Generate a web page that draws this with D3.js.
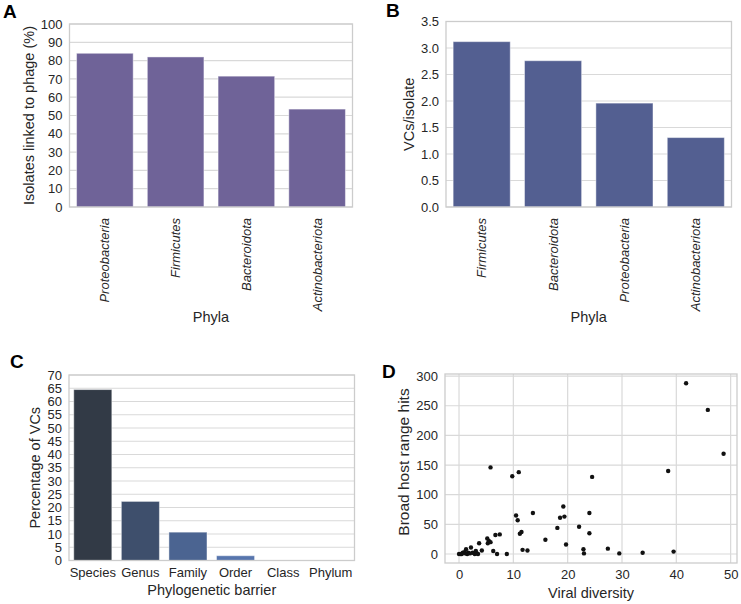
<!DOCTYPE html>
<html><head><meta charset="utf-8">
<script src="https://cdn.jsdelivr.net/npm/d3@7"></script>
<style>body{margin:0;background:#fff}svg{display:block;font-family:"Liberation Sans",Arial,sans-serif}</style>
</head><body>
<svg id="c" width="741" height="604"></svg>
<script>
// Panel A
const phylaA = ["Proteobacteria","Firmicutes","Bacteroidota","Actinobacteriota"];
const linkedPct = [84, 82, 71.5, 53.5];
const ticksA = [0,10,20,30,40,50,60,70,80,90,100];
// Panel B
const phylaB = ["Firmicutes","Bacteroidota","Proteobacteria","Actinobacteriota"];
const vcsPerIsolate = [3.12, 2.76, 1.96, 1.31];
const ticksB = [0,0.5,1,1.5,2,2.5,3,3.5];
// Panel C
const barriers = ["Species","Genus","Family","Order","Class","Phylum"];
const pctVCs = [64.5, 22.3, 10.7, 1.8, 0, 0];
const colorsC = ["#323a46","#3e4f6c","#4b6491","#5775ad","#6386c4","#7096d6"];
const ticksC = [0,5,10,15,20,25,30,35,40,45,50,55,60,65,70];
// Panel D
const viralDiversity = [41.8,45.8,48.7,38.5,5.8,9.8,11.0,24.5,
  19.2,10.5,13.6,24.0,18.6,19.4,10.8,18.1,22.1,24.0,11.2,11.5,7.5,6.7,15.9,19.7,
  11.7,12.6,22.9,23.0,27.4,29.5,33.8,39.5,8.8,7.0,6.3,
  5.2,5.3,5.5,5.8,3.7,4.2,2.2,1.3,1.0,0.7,0.3,0,0.5,1.5,1.7,2.0,2.5,2.9,3.1,3.3,3.5,1.2];
const broadHits = [288,243,169,140,146,131,138,130,
  80,65,69,69,61,63,57,44,46,35,34,37,33,32,24,16,
  7,6,8,1,9,1,2,4,0,0,5,
  26,18,22,20,18,6,11,8,3,2,0,0,0,0,2,1,2,0,5,1,0,1];
const ticksDx = [0,10,20,30,40,50];
const ticksDy = [0,50,100,150,200,250,300];

const svg = d3.select("#c");
const GRID = "#d9d9d9", FRAME = "#cccccc", TXT = "#262626";
const TICK = 13, LAB = 14.5;

function frame(g, x0, x1, y0, y1){
  g.append("rect").attr("x",x0).attr("y",y0).attr("width",x1-x0).attr("height",y1-y0)
   .attr("fill","none").attr("stroke",FRAME).attr("stroke-width",1.3);
}
function yAxis(g, y, ticks, x0, x1, fmt, grid=true){
  const ax = d3.axisLeft(y).tickValues(ticks).tickSize(0).tickPadding(7).tickFormat(fmt);
  const a = g.append("g").attr("transform",`translate(${x0},0)`).call(ax);
  a.select(".domain").remove();
  a.selectAll("text").attr("font-size",TICK).attr("fill",TXT).attr("font-family","Liberation Sans, Arial, sans-serif");
  if(grid){
    g.append("g").selectAll("line").data(ticks).join("line")
     .attr("x1",x0).attr("x2",x1).attr("y1",d=>y(d)).attr("y2",d=>y(d))
     .attr("stroke",GRID).attr("stroke-width",1.2);
  }
}
function yLabel(g, text, cx, cy, size=LAB){
  g.append("text").attr("transform",`translate(${cx},${cy}) rotate(-90)`)
   .attr("text-anchor","middle").attr("dy","0.35em").attr("font-size",size).attr("fill",TXT).text(text);
}
function panelLabel(t, x, y){
  svg.append("text").attr("x",x).attr("y",y).attr("font-size",19).attr("font-weight","bold").attr("fill","#000").text(t);
}

function rotatedBarPanel(cats, vals, ticks, fmt, color, box, ylab, ylabX){
  const g = svg.append("g");
  const [x0,x1,y0,y1] = box;
  const x = d3.scaleBand().domain(cats).range([x0,x1]).paddingInner(0.2).paddingOuter(0.1);
  const y = d3.scaleLinear().domain([0, ticks[ticks.length-1]]).range([y1,y0]);
  yAxis(g, y, ticks, x0, x1, fmt);
  g.selectAll("rect.bar").data(cats).join("rect").attr("class","bar")
   .attr("x",d=>x(d)).attr("width",x.bandwidth())
   .attr("y",(d,i)=>y(vals[i])).attr("height",(d,i)=>y(0)-y(vals[i]))
   .attr("fill",color).attr("stroke","#ffffff").attr("stroke-opacity",0.45).attr("stroke-width",1);
  frame(g,x0,x1,y0,y1);
  const xa = d3.axisBottom(x).tickSize(0).tickPadding(0);
  const a = g.append("g").attr("transform",`translate(0,${y1})`).call(xa);
  a.select(".domain").remove();
  a.selectAll("text").attr("font-size",TICK).attr("fill",TXT).attr("font-style","italic")
   .attr("font-family","Liberation Sans, Arial, sans-serif")
   .attr("text-anchor","end").attr("transform","rotate(-90)")
   .attr("x",-11).attr("y",0).attr("dy","0.35em");
  g.append("text").attr("x",(x0+x1)/2).attr("y",322).attr("text-anchor","middle")
   .attr("font-size",LAB).attr("fill",TXT).text("Phyla");
  yLabel(g, ylab, ylabX, (y0+y1)/2);
}

rotatedBarPanel(phylaA, linkedPct, ticksA, d3.format("d"), "#6f6398", [69.5,352.5,24,207], "Isolates linked to phage (%)", 29);
rotatedBarPanel(phylaB, vcsPerIsolate, ticksB, d3.format(".1f"), "#535f91", [446,731.5,21.5,207], "VCs/isolate", 409);

// Panel C
(function(){
  const g = svg.append("g");
  const x0=69,x1=354.5,y0=375,y1=560.5;
  const x = d3.scaleBand().domain(barriers).range([x0,x1]).paddingInner(0.2).paddingOuter(0.1);
  const y = d3.scaleLinear().domain([0,70]).range([y1,y0]);
  yAxis(g, y, ticksC, x0, x1, d3.format("d"));
  g.selectAll("rect.bar").data(barriers).join("rect").attr("class","bar")
   .attr("x",d=>x(d)).attr("width",x.bandwidth())
   .attr("y",(d,i)=>y(pctVCs[i])).attr("height",(d,i)=>y(0)-y(pctVCs[i]))
   .attr("fill",(d,i)=>colorsC[i]).attr("stroke","#ffffff").attr("stroke-opacity",0.45).attr("stroke-width",1);
  frame(g,x0,x1,y0,y1);
  const a = g.append("g").attr("transform",`translate(0,${y1})`).call(d3.axisBottom(x).tickSize(0).tickPadding(7));
  a.select(".domain").remove();
  a.selectAll("text").attr("font-size",TICK).attr("fill",TXT).attr("font-family","Liberation Sans, Arial, sans-serif");
  g.append("text").attr("x",(x0+x1)/2).attr("y",595).attr("text-anchor","middle")
   .attr("font-size",LAB).attr("fill",TXT).text("Phylogenetic barrier");
  yLabel(g, "Percentage of VCs", 35, (y0+y1)/2);
})();

// Panel D
(function(){
  const g = svg.append("g");
  const x0=445,x1=737,y0=374,y1=563;
  const x = d3.scaleLinear().domain([-2.58,51.17]).range([x0,x1]);
  const y = d3.scaleLinear().domain([-15.2,303.5]).range([y1,y0]);
  g.append("g").selectAll("line").data(ticksDx).join("line")
   .attr("x1",d=>x(d)).attr("x2",d=>x(d)).attr("y1",y0).attr("y2",y1)
   .attr("stroke",GRID).attr("stroke-width",1.2);
  yAxis(g, y, ticksDy, x0, x1, d3.format("d"));
  const a = g.append("g").attr("transform",`translate(0,${y1})`)
   .call(d3.axisBottom(x).tickValues(ticksDx).tickSize(0).tickPadding(7).tickFormat(d3.format("d")));
  a.select(".domain").remove();
  a.selectAll("text").attr("font-size",TICK).attr("fill",TXT).attr("font-family","Liberation Sans, Arial, sans-serif");
  frame(g,x0,x1,y0,y1);
  g.append("g").selectAll("circle").data(viralDiversity).join("circle")
   .attr("cx",d=>x(d)).attr("cy",(d,i)=>y(broadHits[i])).attr("r",2.2).attr("fill","#111");
  g.append("text").attr("x",(x0+x1)/2).attr("y",598).attr("text-anchor","middle")
   .attr("font-size",LAB).attr("fill",TXT).text("Viral diversity");
  yLabel(g, "Broad host range hits", 404, 462, 15.5);
})();

panelLabel("A", 3, 18);
panelLabel("B", 386, 17);
panelLabel("C", 10, 368);
panelLabel("D", 382, 378);
</script>
</body></html>
